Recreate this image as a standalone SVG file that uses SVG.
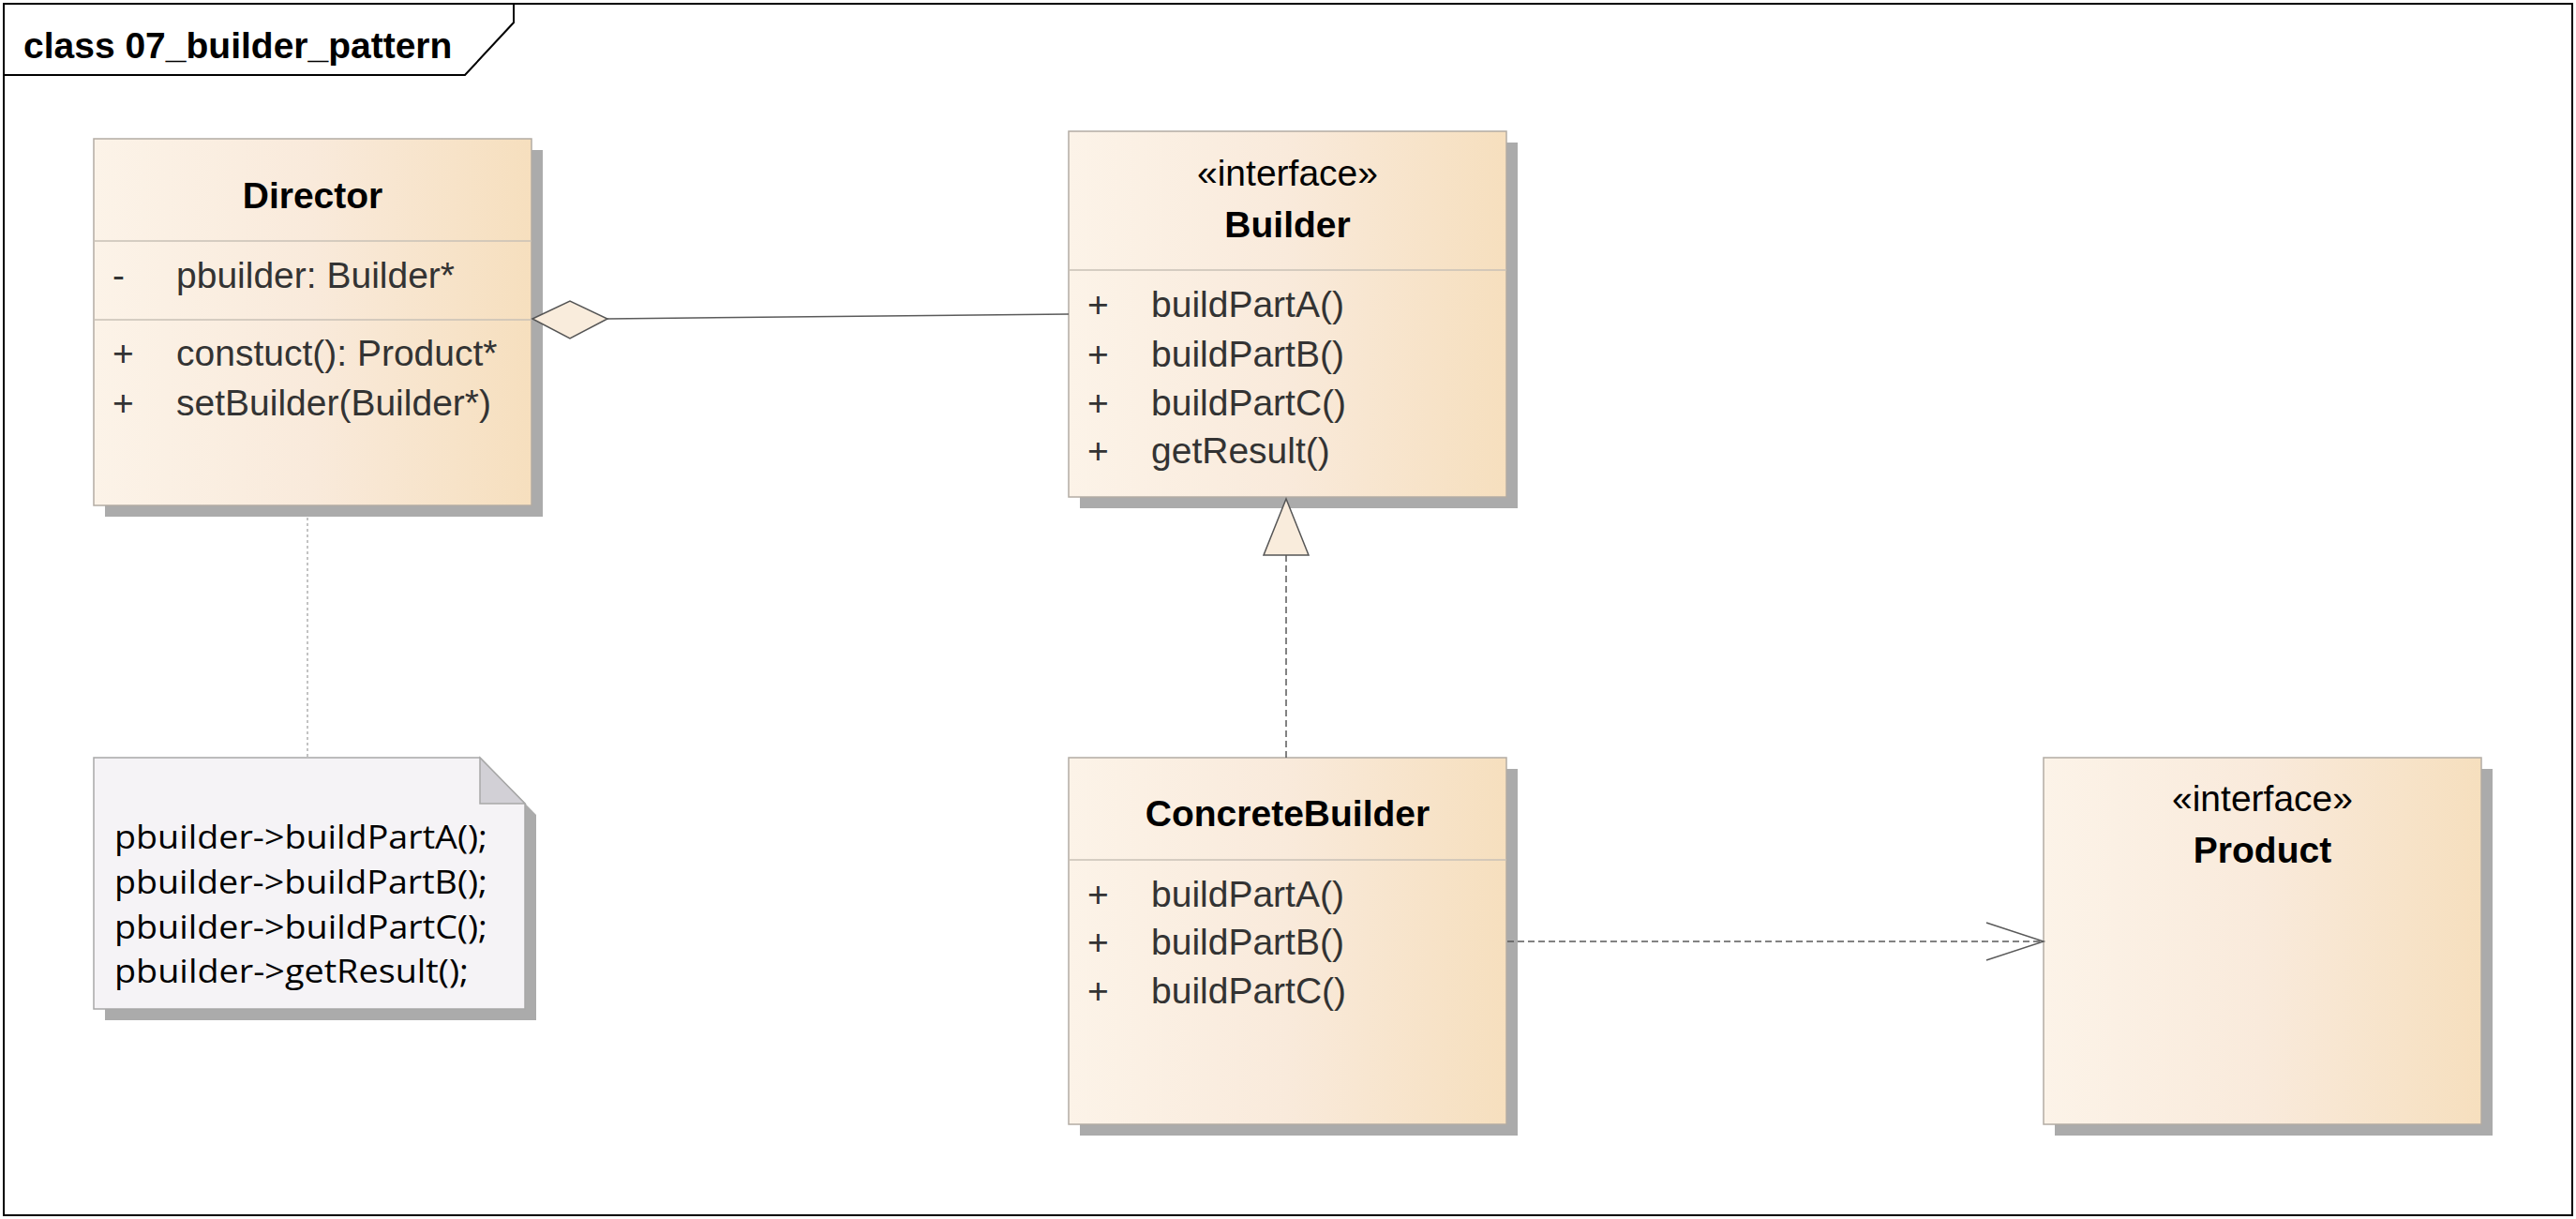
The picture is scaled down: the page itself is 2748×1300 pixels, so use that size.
<svg xmlns="http://www.w3.org/2000/svg" width="2748" height="1300" viewBox="0 0 2748 1300">
<defs>
<linearGradient id="cls" x1="0" y1="0" x2="1" y2="0">
<stop offset="0" stop-color="#fcf3e8"/>
<stop offset="0.5" stop-color="#f9eadb"/>
<stop offset="1" stop-color="#f6dfbe"/>
</linearGradient>
<style>
.bg{fill:#ffffff}
.frame{fill:none;stroke:#000;stroke-width:2}
.title{font-family:"Liberation Sans",Arial,sans-serif;font-weight:bold;font-size:39px;fill:#000}
.shadow{fill:#ababab}
.box{fill:url(#cls);stroke:#b3aca4;stroke-width:1.5}
.div{stroke:#c9c0b6;stroke-width:1.5}
.name{font-family:"Liberation Sans",Arial,sans-serif;font-weight:bold;font-size:39px;fill:#000;text-anchor:middle}
.stereo{font-family:"Liberation Sans",Arial,sans-serif;font-size:39px;fill:#000;text-anchor:middle}
.mem{font-family:"Liberation Sans",Arial,sans-serif;font-size:39px;fill:#333}
.note{fill:#f5f3f6;stroke:#a8a8a8;stroke-width:1.5}
.fold{fill:#d2d0d6;stroke:#a8a8a8;stroke-width:1.5}
.ntext{font-family:"Open Sans","Noto Sans",sans-serif;font-size:34px;fill:#000}
.line{fill:none;stroke:#5a5a5a;stroke-width:1.5}
.dash{fill:none;stroke:#5a5a5a;stroke-width:1.5;stroke-dasharray:7 4}
.dot{fill:none;stroke:#b0b0b0;stroke-width:1.5;stroke-dasharray:3 3}
.head{fill:#f9ecdc;stroke:#555;stroke-width:1.5}
</style>
</defs>
<rect class="bg" x="0" y="0" width="2748" height="1300"/>
<g id="frame">
<rect class="frame" x="4" y="4" width="2740" height="1292"/>
<polyline class="frame" points="4,80 496,80 548,24 548,4"/>
<text class="title" x="25" y="62">class 07_builder_pattern</text>
</g>
<g id="Director">
<rect class="shadow" x="112" y="160" width="467" height="391"/>
<rect class="box" x="100" y="148" width="467" height="391"/>
<line class="div" x1="100" y1="257" x2="567" y2="257"/>
<line class="div" x1="100" y1="341" x2="567" y2="341"/>
<text class="name" x="333.5" y="222">Director</text>
<text class="mem" x="120" y="307">-</text>
<text class="mem" x="188" y="307">pbuilder: Builder*</text>
<text class="mem" x="120" y="390">+</text>
<text class="mem" x="188" y="390">constuct(): Product*</text>
<text class="mem" x="120" y="443">+</text>
<text class="mem" x="188" y="443">setBuilder(Builder*)</text>
</g>
<g id="Builder">
<rect class="shadow" x="1152" y="152" width="467" height="390"/>
<rect class="box" x="1140" y="140" width="467" height="390"/>
<line class="div" x1="1140" y1="288" x2="1607" y2="288"/>
<text class="stereo" x="1373.5" y="198">«interface»</text>
<text class="name" x="1373.5" y="253">Builder</text>
<text class="mem" x="1160" y="338">+</text>
<text class="mem" x="1228" y="338">buildPartA()</text>
<text class="mem" x="1160" y="391">+</text>
<text class="mem" x="1228" y="391">buildPartB()</text>
<text class="mem" x="1160" y="443">+</text>
<text class="mem" x="1228" y="443">buildPartC()</text>
<text class="mem" x="1160" y="494">+</text>
<text class="mem" x="1228" y="494">getResult()</text>
</g>
<g id="ConcreteBuilder">
<rect class="shadow" x="1152" y="820" width="467" height="391"/>
<rect class="box" x="1140" y="808" width="467" height="391"/>
<line class="div" x1="1140" y1="917" x2="1607" y2="917"/>
<text class="name" x="1373.5" y="881">ConcreteBuilder</text>
<text class="mem" x="1160" y="967">+</text>
<text class="mem" x="1228" y="967">buildPartA()</text>
<text class="mem" x="1160" y="1018">+</text>
<text class="mem" x="1228" y="1018">buildPartB()</text>
<text class="mem" x="1160" y="1070">+</text>
<text class="mem" x="1228" y="1070">buildPartC()</text>
</g>
<g id="Product">
<rect class="shadow" x="2192" y="820" width="467" height="391"/>
<rect class="box" x="2180" y="808" width="467" height="391"/>
<text class="stereo" x="2413.5" y="865">«interface»</text>
<text class="name" x="2413.5" y="920">Product</text>
</g>
<g id="Note">
<polygon class="shadow" points="112,820 524,820 572,869 572,1088 112,1088"/>
<polygon class="note" points="100,808 512,808 560,857 560,1076 100,1076"/>
<polygon class="fold" points="512,808 512,857 560,857"/>
<text class="ntext" x="122" y="905" textLength="398" lengthAdjust="spacingAndGlyphs">pbuilder-&gt;buildPartA();</text>
<text class="ntext" x="122" y="953" textLength="398" lengthAdjust="spacingAndGlyphs">pbuilder-&gt;buildPartB();</text>
<text class="ntext" x="122" y="1001" textLength="398" lengthAdjust="spacingAndGlyphs">pbuilder-&gt;buildPartC();</text>
<text class="ntext" x="122" y="1048" textLength="378" lengthAdjust="spacingAndGlyphs">pbuilder-&gt;getResult();</text>
</g>
<g id="connectors">
<line class="dot" x1="328" y1="552" x2="328" y2="808"/>
<line class="line" x1="648" y1="340" x2="1140" y2="335"/>
<polygon class="head" points="568,340 608,321 648,340 608,361"/>
<line class="dash" x1="1372" y1="592" x2="1372" y2="808"/>
<polygon class="head" points="1372,532 1348,592 1396,592"/>
<line class="dash" x1="1608" y1="1004" x2="2180" y2="1004"/>
<polyline class="line" points="2119,984 2180,1004 2119,1024"/>
</g>
</svg>
